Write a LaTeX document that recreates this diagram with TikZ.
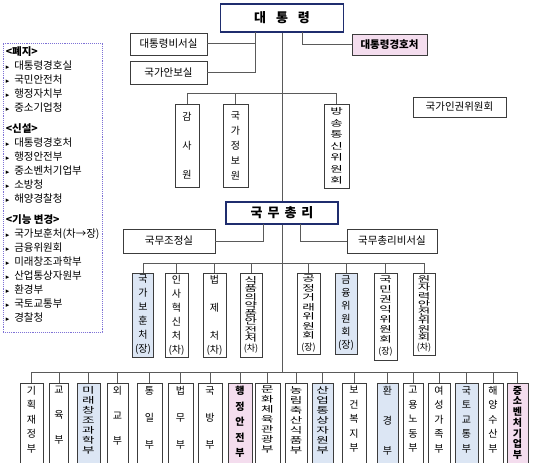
\documentclass[tikz,border=0pt]{standalone}
\usepackage{fontspec}
\setmainfont{Noto Sans CJK KR}
\newfontfamily\krsq[FakeStretch=1.6]{Noto Sans CJK KR}
\newfontfamily\symfont{DejaVu Sans}
\usetikzlibrary{positioning}

\definecolor{navy}{HTML}{1F2D6E}
\definecolor{pinkf}{HTML}{F4DDEE}
\definecolor{bluef}{HTML}{DCE6F4}
\definecolor{linec}{HTML}{5A5A5A}
\definecolor{boxc}{HTML}{3C3C3C}
\definecolor{legc}{HTML}{7E72D6}

\newcommand{\blt}{{\symfont\fontsize{7}{7}\selectfont ▸}\hspace{5pt}}
% one ministry of the bottom row: name, x, width, fill, text style, text
\newcommand{\ministry}[6]{%
  \node[mbox, minimum width=#3pt, fill=#4] (#1) at (#2,383) {};
  \node[mtext, #5, below=3pt of #1.north] (#1-t) {#6};
  \draw[conn] (#1.north) -- ++(0,-11);
}

\begin{document}
\begin{tikzpicture}[x=1pt, y=-1pt,
    conn/.style={draw=linec, line width=1pt},
    topbox/.style={draw=navy, line width=1.8pt, fill=white, inner sep=0pt, font=\bfseries\fontsize{13}{13}\selectfont},
    hrect/.style={draw=boxc, line width=0.8pt, fill=white, inner sep=0pt, font=\fontsize{10.5}{10.5}\selectfont},
    hot/.style={fill=pinkf, font=\bfseries\fontsize{10.5}{10.5}\selectfont},
    vrect/.style={draw=boxc, line width=0.8pt, fill=white, inner sep=0pt, align=center},
    vt/.style={font=\fontsize{10}{#1}\selectfont},
    vtb/.style={font=\bfseries\fontsize{10}{#1}\selectfont},
    vq/.style={font=\krsq\fontsize{8.5}{#1}\selectfont},
    mbox/.style={draw=boxc, line width=0.8pt, inner sep=0pt, anchor=north, minimum height=95pt},
    mtext/.style={inner sep=0pt, align=center},
    legbox/.style={draw=legc, densely dotted, line width=0.9pt, minimum width=99pt, minimum height=289pt},
    legtext/.style={inner sep=0pt, align=left, font=\fontsize{10.5}{14}\selectfont}]
    \path[use as bounding box, fill=white] (0,0) rectangle (534,462);
    \clip (0,0) rectangle (534,462);

    % legend
    \node[legbox] (leg) at (52.5,187.5) {};
    \node[legtext, below right=4pt and 3pt of leg.north west] (legt) {%
        \textbf{<폐지>}\\
        \blt 대통령경호실\\
        \blt 국민안전처\\
        \blt 행정자치부\\
        \blt 중소기업청\\[7pt]
        \textbf{<신설>}\\
        \blt 대통령경호처\\
        \blt 행정안전부\\
        \blt 중소벤처기업부\\
        \blt 소방청\\
        \blt 해양경찰청\\[7pt]
        \textbf{<기능 변경>}\\
        \blt 국가보훈처(차→장)\\
        \blt 금융위원회\\
        \blt 미래창조과학부\\
        \blt 산업통상자원부\\
        \blt 환경부\\
        \blt 국토교통부\\
        \blt 경찰청};

    % president
    \node[topbox, minimum width=123pt, minimum height=28pt] (pres) at (282,18) {대\hspace{10pt}통\hspace{10pt}령};
    \node[hrect, minimum width=77pt, minimum height=22pt] (sec) at (168.5,44) {대통령비서실};
    \node[hrect, minimum width=77pt, minimum height=23pt] (nsc) at (168.5,72.5) {국가안보실};
    \node[hrect, hot, minimum width=75pt, minimum height=21pt] (guard) at (389.5,44.5) {대통령경호처};
    \coordinate (secj) at (255,32);
    \coordinate (guardj) at (302,32);
    \draw[conn] (secj) |- (sec);
    \draw[conn] (secj) |- (nsc);
    \draw[conn] (guardj) |- (guard);

    \node[vrect, vt=29, minimum width=24pt, minimum height=83pt] (aud) at (187,145.5) {감\\사\\원};
    \node[vrect, vt=15, minimum width=25pt, minimum height=83pt] (nis) at (235.5,145.5) {국\\가\\정\\보\\원};
    \node[vrect, vq=11.5, minimum width=25pt, minimum height=84pt] (kcc) at (336.5,146) {방\\송\\통\\신\\위\\원\\회};
    \draw[conn] (aud.north) -- ++(0,-10) -| (kcc.north);
    \draw[conn] (nis.north) -- ++(0,-10);

    \node[hrect, minimum width=93pt, minimum height=20pt] (nhrc) at (459.5,107) {국가인권위원회};

    % prime minister
    \node[topbox, minimum width=112pt, minimum height=22pt] (pm) at (282,213) {국\hspace{5pt}무\hspace{5pt}총\hspace{5pt}리};
    \draw[conn] (pres.south) -- (pm.north);
    \node[hrect, minimum width=92pt, minimum height=24pt] (opc) at (169,241) {국무조정실};
    \node[hrect, minimum width=90pt, minimum height=24pt] (pmsec) at (392,241) {국무총리비서실};
    \coordinate (opcj) at (263,224);
    \coordinate (pmsecj) at (300,224);
    \draw[conn] (opcj) |- (opc);
    \draw[conn] (pmsecj) |- (pmsec);

    % agencies and commissions
    \node[vrect, vt=14, fill=bluef, minimum width=21pt, minimum height=84pt] (mpva) at (143,315) {국\\가\\보\\훈\\처\\(장)};
    \node[vrect, vt=14, minimum width=23pt, minimum height=84pt] (mpm) at (176.5,315) {인\\사\\혁\\신\\처\\(차)};
    \node[vrect, vt=14, minimum width=23pt, minimum height=84pt] (moleg) at (214.5,315) {법\\[14pt]제\\[14pt]처\\(차)};
    \node[vrect, vq=8.3, minimum width=22pt, minimum height=84pt] (mfds) at (251,315) {식\\품\\의\\약\\품\\안\\전\\처\\[2pt]{\rmfamily\fontsize{9}{9}\selectfont(차)}};
    \node[vrect, vq=9.5, minimum width=23pt, minimum height=81pt] (ftc) at (308.5,313.5) {공\\정\\거\\래\\위\\원\\회\\[2pt]{\rmfamily\fontsize{9}{9}\selectfont(장)}};
    \node[vrect, vt=13, fill=bluef, minimum width=22pt, minimum height=81pt] (fsc) at (346,313.5) {금\\융\\위\\원\\회\\(장)};
    \node[vrect, vq=10, minimum width=23pt, minimum height=87pt] (acrc) at (385.5,316.5) {국\\민\\권\\익\\위\\원\\회\\[2pt]{\rmfamily\fontsize{9}{9}\selectfont(장)}};
    \node[vrect, vq=8.3, minimum width=22pt, minimum height=82pt] (nssc) at (424,314) {원\\자\\력\\안\\전\\위\\원\\회\\[2pt]{\rmfamily\fontsize{9}{9}\selectfont(차)}};
    \draw[conn] (mpva.north) -- ++(0,-9) -| (nssc.north);
    \foreach \n in {mpm,moleg,mfds,ftc,fsc,acrc}
        \draw[conn] (\n.north) -- ++(0,-9);

    % ministries
    \coordinate (mbus) at (282,372);
    \draw[conn] (pm.south) -- (mbus);
    \ministry{moef}{31.5}{23}{white}{vt=14.5}{기\\획\\재\\정\\부}
    \ministry{moe}{59}{19}{white}{vt=25}{교\\육\\부}
    \ministry{msip}{88.5}{23}{bluef}{vq=10}{미\\래\\창\\조\\과\\학\\부}
    \ministry{mofa}{117.5}{21}{white}{vt=25}{외\\교\\부}
    \ministry{mou}{149.5}{25}{white}{vt=27}{통\\일\\부}
    \ministry{moj}{180.5}{25}{white}{vt=27}{법\\무\\부}
    \ministry{mnd}{210}{24}{white}{vt=27}{국\\방\\부}
    \ministry{mois}{240}{24}{pinkf}{vtb=15.5}{행\\정\\안\\전\\부}
    \ministry{mcst}{267.5}{25}{white}{vq=10}{문\\화\\체\\육\\관\\광\\부}
    \ministry{mafra}{296}{22}{white}{vq=10}{농\\림\\축\\산\\식\\품\\부}
    \ministry{motie}{322.5}{21}{bluef}{vq=10}{산\\업\\통\\상\\자\\원\\부}
    \ministry{mohw}{354}{24}{white}{vt=14.5}{보\\건\\복\\지\\부}
    \ministry{me}{387.5}{21}{bluef}{vt=30}{환\\경\\부}
    \ministry{moel}{413}{20}{white}{vt=14.5}{고\\용\\노\\동\\부}
    \ministry{mogef}{439}{22}{white}{vt=14.5}{여\\성\\가\\족\\부}
    \ministry{molit}{466.5}{23}{bluef}{vt=14.5}{국\\토\\교\\통\\부}
    \ministry{mof}{493}{20}{white}{vt=14.5}{해\\양\\수\\산\\부}
    \ministry{mss}{517.5}{21}{pinkf}{vtb=10.7}{중\\소\\벤\\처\\기\\업\\부}
    \draw[conn] ([yshift=11pt]moef.north) -- ([yshift=11pt]mss.north);
\end{tikzpicture}
\end{document}
